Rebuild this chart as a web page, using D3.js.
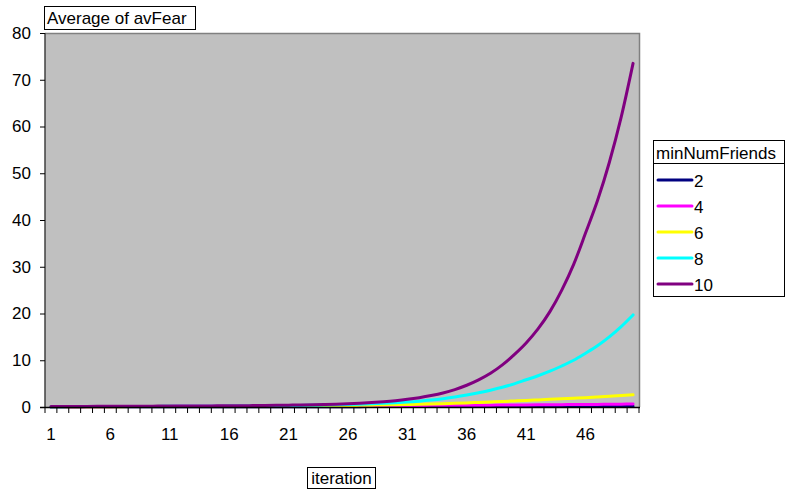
<!DOCTYPE html>
<html>
<head>
<meta charset="utf-8">
<script src="https://cdn.jsdelivr.net/npm/d3@7"></script>
<style>
  html, body { margin: 0; padding: 0; background: #ffffff; }
  svg text { font-family: "Liberation Sans", Arial, sans-serif; }
</style>
</head>
<body>
<svg id="chart" width="786" height="493"></svg>
<script>
const iterations = d3.range(1, 51);
const xTickLabels = [1, 6, 11, 16, 21, 26, 31, 36, 41, 46];
const yTicks = [0, 10, 20, 30, 40, 50, 60, 70, 80];
const seriesNames = ["2", "4", "6", "8", "10"];
const seriesColors = ["#000080", "#FF00FF", "#FFFF00", "#00FFFF", "#800080"];

const fear2 = [0.02,0.02,0.02,0.03,0.03,0.03,0.03,0.04,0.04,0.04,
               0.04,0.05,0.05,0.05,0.05,0.06,0.06,0.06,0.06,0.07,
               0.07,0.07,0.07,0.08,0.08,0.08,0.08,0.09,0.09,0.09,
               0.09,0.1,0.1,0.1,0.1,0.11,0.11,0.11,0.11,0.12,
               0.12,0.12,0.12,0.13,0.13,0.13,0.13,0.14,0.14,0.14];
const fear4 = [0.03,0.04,0.05,0.06,0.07,0.08,0.09,0.1,0.11,0.12,
               0.13,0.14,0.15,0.16,0.17,0.18,0.19,0.2,0.21,0.22,
               0.23,0.24,0.25,0.26,0.27,0.28,0.29,0.3,0.31,0.32,
               0.33,0.34,0.35,0.36,0.37,0.38,0.39,0.4,0.41,0.42,
               0.44,0.46,0.48,0.5,0.52,0.54,0.56,0.58,0.61,0.64];
const fear6 = [0.05,0.06,0.06,0.07,0.07,0.08,0.08,0.09,0.09,0.1,
               0.1,0.11,0.11,0.12,0.12,0.13,0.13,0.14,0.15,0.16,
               0.18,0.2,0.22,0.25,0.28,0.31,0.35,0.39,0.43,0.48,
               0.53,0.58,0.64,0.71,0.79,0.88,0.98,1.08,1.18,1.29,
               1.4,1.52,1.64,1.76,1.88,2.0,2.14,2.29,2.44,2.6];
const fear8 = [0.08,0.08,0.09,0.09,0.1,0.1,0.11,0.11,0.12,0.13,
               0.14,0.15,0.16,0.17,0.18,0.19,0.21,0.23,0.25,0.28,
               0.31,0.34,0.38,0.42,0.47,0.53,0.6,0.68,0.78,0.9,
               1.05,1.24,1.48,1.77,2.12,2.55,3.05,3.6,4.22,4.95,
               5.82,6.69,7.66,8.77,10.0,11.5,13.1,15.0,17.2,19.7];
const fear10 = [0.1,0.11,0.12,0.13,0.14,0.15,0.16,0.17,0.18,0.19,
                0.2,0.21,0.22,0.23,0.245,0.26,0.28,0.3,0.32,0.35,
                0.39,0.43,0.48,0.54,0.61,0.7,0.82,0.96,1.14,1.36,
                1.64,2.0,2.45,3.0,3.73,4.65,5.8,7.2,9.0,11.2,
                13.7,16.7,20.4,25.0,30.5,37.2,44.1,52.3,62.0,73.5];
const seriesValues = [fear2, fear4, fear6, fear8, fear10];

const svg = d3.select("#chart");
const mLeft = 45, mRight = 639, mTop = 33, mBottom = 407;
const FONT = 17;

const x = d3.scaleBand().domain(iterations).range([mLeft, mRight]).padding(0);
const y = d3.scaleLinear().domain([0, 80]).range([mBottom, mTop]);

// plot area
svg.append("rect")
  .attr("x", mLeft).attr("y", mTop)
  .attr("width", mRight - mLeft).attr("height", mBottom - mTop)
  .attr("fill", "#C0C0C0");
svg.append("path")
  .attr("d", `M${mLeft},${mTop + 0.5}H${mRight + 0.5}V${mBottom}`)
  .attr("fill", "none").attr("stroke", "#808080").attr("stroke-width", 1.5);

// series lines
const line = d3.line()
  .x((d, i) => x(iterations[i]) + x.bandwidth() / 2)
  .y(d => y(d))
  .curve(d3.curveMonotoneX);

seriesValues.forEach((vals, k) => {
  svg.append("path")
    .datum(vals)
    .attr("d", line)
    .attr("fill", "none")
    .attr("stroke", seriesColors[k])
    .attr("stroke-width", 3)
    .attr("stroke-linecap", "round");
});

// Y axis
const yAxis = svg.append("g")
  .attr("transform", `translate(${mLeft},0)`)
  .call(d3.axisLeft(y).tickValues(yTicks).tickSize(5).tickPadding(9));
yAxis.select(".domain").attr("stroke", "#404040").attr("stroke-width", 1.5).attr("d", `M0,${mTop}V${mBottom}`);
yAxis.selectAll(".tick line").attr("stroke", "#000");
yAxis.selectAll("text").attr("font-size", FONT).attr("fill", "#000")
  .attr("font-family", "Liberation Sans, Arial, sans-serif");

// X axis: labels at category centers, ticks at boundaries
const xAxis = svg.append("g")
  .attr("transform", `translate(0,${mBottom})`)
  .call(d3.axisBottom(x).tickValues(xTickLabels).tickSize(0).tickPadding(21));
xAxis.select(".domain").remove();
xAxis.selectAll("text").attr("font-size", FONT).attr("fill", "#000")
  .attr("font-family", "Liberation Sans, Arial, sans-serif");

const boundaries = iterations.map(c => x(c)).concat([mRight]);
svg.append("g").selectAll("line")
  .data(boundaries)
  .join("line")
  .attr("x1", d => d).attr("x2", d => d)
  .attr("y1", mBottom).attr("y2", mBottom + 6)
  .attr("stroke", "#000").attr("stroke-width", 1);
svg.append("line")
  .attr("x1", mLeft - 5).attr("x2", mRight + 1)
  .attr("y1", mBottom + 0.5).attr("y2", mBottom + 0.5)
  .attr("stroke", "#000").attr("stroke-width", 1.5);

// title box
const tg = svg.append("g");
tg.append("rect").attr("x", 44.5).attr("y", 6.5).attr("width", 151).attr("height", 23)
  .attr("fill", "#fff").attr("stroke", "#000");
tg.append("text").attr("x", 47).attr("y", 24).attr("font-size", FONT).text("Average of avFear");

// x axis title box
const xg = svg.append("g");
xg.append("rect").attr("x", 307.5).attr("y", 467.5).attr("width", 68).attr("height", 21)
  .attr("fill", "#fff").attr("stroke", "#000");
xg.append("text").attr("x", 341.5).attr("y", 484).attr("text-anchor", "middle")
  .attr("font-size", FONT).text("iteration");

// legend
const lg = svg.append("g");
lg.append("rect").attr("x", 653.5).attr("y", 140.5).attr("width", 131).attr("height", 156)
  .attr("fill", "#fff").attr("stroke", "#000");
lg.append("line").attr("x1", 653.5).attr("x2", 784.5).attr("y1", 163.5).attr("y2", 163.5)
  .attr("stroke", "#000");
lg.append("text").attr("x", 656).attr("y", 159).attr("font-size", FONT).text("minNumFriends");
seriesNames.forEach((nm, k) => {
  const yy = 180 + k * 26;
  lg.append("line").attr("x1", 658).attr("x2", 692).attr("y1", yy).attr("y2", yy)
    .attr("stroke", seriesColors[k]).attr("stroke-width", 3).attr("stroke-linecap", "round");
  lg.append("text").attr("x", 694).attr("y", yy + 6.5).attr("font-size", FONT).text(nm);
});
</script>
</body>
</html>
